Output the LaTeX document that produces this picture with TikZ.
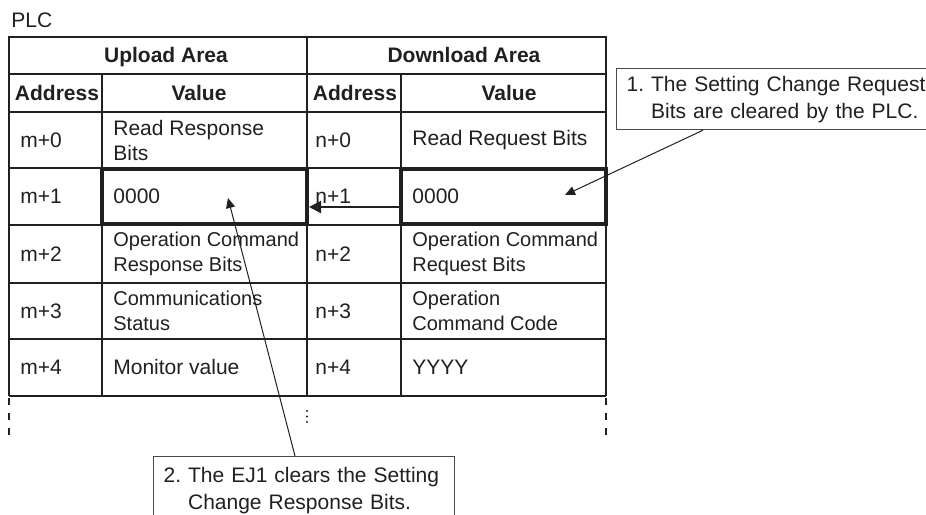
\documentclass[tikz,border=0pt]{standalone}
\usepackage{fontspec}
\setmainfont{Liberation Sans}
\usetikzlibrary{arrows.meta}
\definecolor{plcink}{HTML}{231F20}
\definecolor{plcedge}{HTML}{4A4A4A}
\tikzset{
  rule/.style={draw=plcink,line width=.6pt},
  frame/.style={draw=plcink,line width=1.1pt},
  hilite/.style={draw=plcink,line width=2pt},
  gap/.style={draw=plcink,line width=1pt,dash pattern=on 3.5pt off 4pt},
  head/.style={font=\fontsize{10.5}{12.5}\selectfont\bfseries,text=plcink,inner sep=0pt,anchor=base},
  cell/.style={font=\fontsize{10.5}{12.5}\selectfont,text=plcink,anchor=west,align=left,inner sep=0pt},
  note/.style={draw=plcedge,line width=.6pt,anchor=north west,align=left,
    font=\fontsize{10.5}{13.5}\selectfont,text=plcink,inner xsep=5pt},
  pointer/.style={-{Triangle[length=5pt,width=4.5pt]},draw=plcink,line width=.5pt},
  copyarr/.style={-{Triangle[length=6pt,width=6pt]},draw=plcink,line width=1pt},
}

\begin{document}
\begin{tikzpicture}[x=.5pt,y=-.5pt]
  \useasboundingbox (0,0) rectangle (926,514);
  \clip (0,0) rectangle (926,514);

  \node[cell,anchor=base west] (plc) at (11,27) {PLC};

  % ---- table grid ----
  \draw[rule] (9,74) -- (606,74);
  \foreach \y in {112,168,225,283,339,396}{ \draw[rule] (9,\y) -- (606,\y); }
  \draw[rule] (307,37) -- (307,396);
  \foreach \x in {102,401}{ \draw[rule] (\x,74) -- (\x,396); }
  \draw[frame] (9,396) -- (9,37) -- (606,37) -- (606,396);
  \foreach \x in {9,606}{ \draw[gap] (\x,398) -- (\x,440); }
  \foreach \y in {411,416.5,422}{ \fill[plcink] (307,\y) circle (1.1); }

  % ---- headers ----
  \node[head] (uphead) at (166,62) {Upload Area};
  \node[head] (dnhead) at (464,62) {Download Area};
  \node[head] (upaddr) at (57,100) {Address};
  \node[head] (upval) at (199,100) {Value};
  \node[head] (dnaddr) at (355,100) {Address};
  \node[head] (dnval) at (509,100) {Value};

  % ---- rows ----
  \foreach \yc/\sz/\ma/\va/\na/\vb [count=\r from 0] in {
    140/10.5/m+0/{Read Response\\Bits}/n+0/{Read Request Bits},
    196/10.5/m+1/0000/n+1/0000,
    254/10/m+2/{Operation Command\\Response Bits}/n+2/{Operation Command\\Request Bits},
    311/10/m+3/{Communications\\Status}/n+3/{Operation\\Command Code},
    367/10.5/m+4/{Monitor value}/n+4/YYYY}{
    \node[cell] (ma\r) at (20,\yc) {\ma};
    \node[cell,font=\fontsize{\sz}{12.5}\selectfont] (va\r) at (113,\yc) {\va};
    \node[cell] (na\r) at (315,\yc) {\na};
    \node[cell,font=\fontsize{\sz}{12.5}\selectfont] (vb\r) at (412,\yc) {\vb};
  }

  % ---- cleared cells ----
  \draw[hilite] (102,169) rectangle (307,224);
  \draw[hilite] (401,169) rectangle (606,224);
  \coordinate (dnsrc) at (401,207);
  \coordinate (updst) at (309,207);
  \draw[copyarr] (dnsrc) -- (updst);

  % ---- callouts ----
  \node[note,text width=150pt,minimum height=30.5pt] (note1) at (616,68)
    {1.~The Setting Change Request\\\phantom{1.~}Bits are cleared by the PLC.};
  \node[note,text width=140.5pt,minimum height=34pt] (note2) at (153,456)
    {2.~The EJ1 clears the Setting\\\phantom{2.~}Change Response Bits.};
  \coordinate (tip1) at (565,195);
  \coordinate (tip2) at (228,198);
  \draw[pointer] ([xshift=43.5pt]note1.south west) -- (tip1);
  \draw[pointer] ([xshift=71pt]note2.north west) -- (tip2);
\end{tikzpicture}
\end{document}
